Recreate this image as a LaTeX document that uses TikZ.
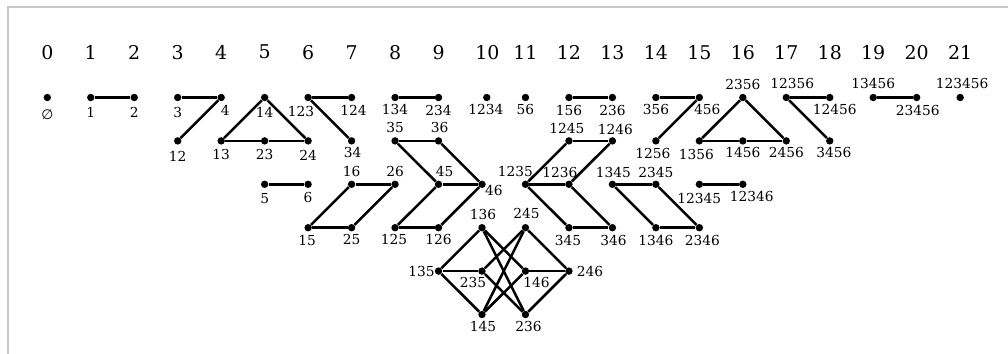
\documentclass[tikz,border=0pt]{standalone}
\usepackage{fontspec}
\setmainfont{DejaVu Serif}
\newfontfamily\symfnt{DejaVu Sans}
\usetikzlibrary{calc}
\tikzset{
  dot/.style={circle,fill=black,draw=none,minimum size=7.4pt*0.6542,inner sep=0pt},
  lbl/.style={inner sep=0pt,font=\fontsize{9}{10}\selectfont},
  hdr/.style={inner sep=0pt,font=\fontsize{12.4}{14}\selectfont},
  edge/.style={line width=1.65pt},
  frameline/.style={draw=black!22,line width=1pt}
}
\newcommand\Vx[6]{%
  \node[dot] (n#1) at ({47.3+43.47*#2},{97.5+43.4*#3}) {};
  \node[lbl] (t#1) at ($(n#1)+(#5,#6)$) {#4};}
\begin{document}
\begin{tikzpicture}[x=0.6542pt,y=-0.6542pt]
\useasboundingbox (0,0) rectangle (1008,354);
\coordinate (fa) at (8,354);
\coordinate (fb) at (8,7);
\coordinate (fc) at (1008,7);
\draw[frameline] (fa) -- (fb) -- (fc);
% headers
\foreach \c in {0,...,9,11,12,...,21}{
  \node[hdr] (h\c) at ({47.3+43.47*\c},52.2) {\c};
}
\node[hdr] (h10) at (487.5,52.2) {10};
% row 0
\Vx{e}{0}{0}{{\symfnt ∅}}{0}{17}
\Vx{1}{1}{0}{1}{0}{15}
\Vx{2}{2}{0}{2}{0}{15}
\Vx{3}{3}{0}{3}{0}{15}
\Vx{4}{4}{0}{4}{4}{13}
\Vx{14}{5}{0}{14}{0}{15}
\Vx{123}{6}{0}{123}{-7}{14}
\Vx{124}{7}{0}{124}{2}{13}
\Vx{134}{8}{0}{134}{0}{12}
\Vx{234}{9}{0}{234}{0}{13}
\Vx{1234}{10.11}{0}{1234}{-1}{12}
\Vx{56}{11}{0}{56}{0}{12}
\Vx{156}{12}{0}{156}{0}{13}
\Vx{236a}{13}{0}{236}{0}{13}
\Vx{356}{14}{0}{356}{0}{12}
\Vx{456}{15}{0}{456}{8}{12}
\Vx{2356}{16}{0}{2356}{0}{-13}
\Vx{12356}{17}{0}{12356}{6}{-14}
\Vx{12456}{18}{0}{12456}{5}{12}
\Vx{13456}{19}{0}{13456}{0}{-14}
\Vx{23456}{20}{0}{23456}{1}{13}
\Vx{123456}{21}{0}{123456}{2}{-14}
% row 1
\Vx{12}{3}{1}{12}{0}{15}
\Vx{13}{4}{1}{13}{0}{14}
\Vx{23}{5}{1}{23}{0}{14}
\Vx{24}{6}{1}{24}{0}{14}
\Vx{34}{7}{1}{34}{1}{12}
\Vx{35}{8}{1}{35}{0}{-13}
\Vx{36}{9}{1}{36}{1}{-13}
\Vx{1245}{12}{1}{1245}{-2}{-12}
\Vx{1246}{13}{1}{1246}{3}{-11}
\Vx{1256}{14}{1}{1256}{-3}{13}
\Vx{1356}{15}{1}{1356}{-3}{14}
\Vx{1456}{16}{1}{1456}{0}{12}
\Vx{2456}{17}{1}{2456}{0}{12}
\Vx{3456}{18}{1}{3456}{4}{12}
% row 2
\Vx{5}{5}{2}{5}{0}{14}
\Vx{6}{6}{2}{6}{0}{13}
\Vx{16}{7}{2}{16}{0}{-13}
\Vx{26}{8}{2}{26}{0}{-13}
\Vx{45}{9}{2}{45}{6}{-13}
\Vx{46}{10}{2}{46}{12}{6}
\Vx{1235}{11}{2}{1235}{-10}{-13}
\Vx{1236}{12}{2}{1236}{-9}{-12}
\Vx{1345}{13}{2}{1345}{1}{-12}
\Vx{2345}{14}{2}{2345}{0}{-12}
\Vx{12345}{15}{2}{12345}{0}{14}
\Vx{12346}{16}{2}{12346}{9}{12}
% row 3
\Vx{15}{6}{3}{15}{-1}{13}
\Vx{25}{7}{3}{25}{0}{12}
\Vx{125}{8}{3}{125}{-1}{12}
\Vx{126}{9}{3}{126}{0}{12}
\Vx{136}{10}{3}{136}{1}{-13}
\Vx{245}{11}{3}{245}{1}{-14}
\Vx{345}{12}{3}{345}{-1}{13}
\Vx{346}{13}{3}{346}{1}{13}
\Vx{1346}{14}{3}{1346}{0}{13}
\Vx{2346}{15}{3}{2346}{3}{13}
% row 4
\Vx{135}{9}{4}{135}{-17}{0}
\Vx{235}{10}{4}{235}{-9}{11}
\Vx{146}{11}{4}{146}{11}{11}
\Vx{246}{12}{4}{246}{21}{0}
% row 5
\Vx{145}{10}{5}{145}{1}{12}
\Vx{236}{11}{5}{236}{3}{12}
% edges
\foreach \a/\b in {1/2, 3/4, 4/12, 14/13, 14/24, 13/23, 23/24, 123/124, 123/34,
  134/234, 5/6, 16/26, 16/15, 26/25, 15/25, 35/36, 35/45, 36/46, 45/46, 45/125,
  46/126, 125/126,
  135/235, 135/145, 135/136, 136/236, 136/146, 145/245, 145/146, 146/246,
  235/245, 235/236, 236/246, 245/246,
  1235/1245, 1245/1246, 1246/1236, 1235/1236, 1235/345, 1236/346, 345/346,
  156/236a, 356/456, 456/1256, 1345/2345, 1345/1346, 2345/2346, 1346/2346,
  12345/12346, 2356/1356, 2356/2456, 1356/1456, 1456/2456, 12356/12456,
  12356/3456, 13456/23456}{
  \draw[edge] (n\a) -- (n\b);
}
\end{tikzpicture}
\end{document}
